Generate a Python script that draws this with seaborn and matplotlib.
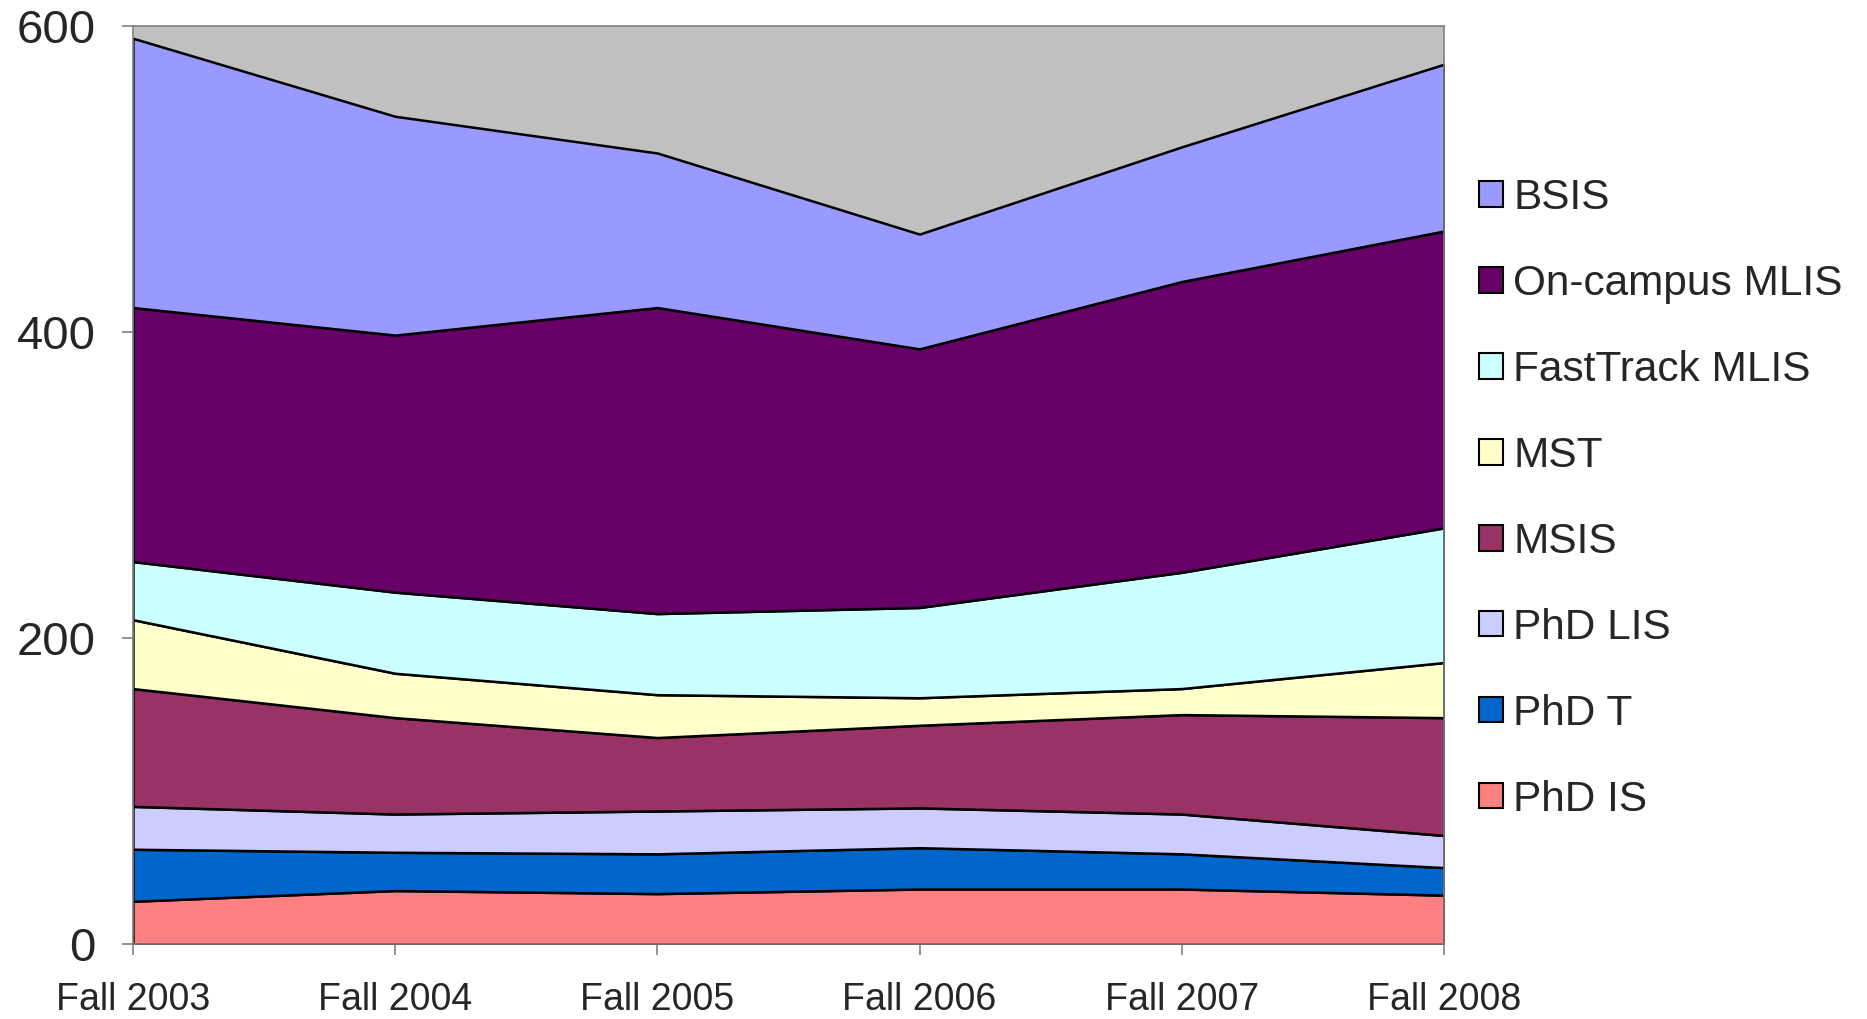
import pandas as pd
import matplotlib.pyplot as plt
import seaborn as sns
from matplotlib.patches import Patch

# data (stacked, bottom to top)
terms = ['Fall 2003', 'Fall 2004', 'Fall 2005', 'Fall 2006', 'Fall 2007', 'Fall 2008']
phd_is = [28, 35, 33, 36, 36, 32]
phd_t = [34, 25, 26, 27, 23, 18]
phd_lis = [28, 25, 28, 26, 26, 21]
msis = [77, 63, 48, 54, 65, 77]
mst = [45, 29, 28, 18, 17, 36]
fasttrack_mlis = [38, 53, 53, 59, 76, 88]
oncampus_mlis = [166, 168, 200, 169, 190, 194]
bsis = [176, 143, 101, 75, 88, 109]

programs = ['PhD IS', 'PhD T', 'PhD LIS', 'MSIS', 'MST',
            'FastTrack MLIS', 'On-campus MLIS', 'BSIS']
colors = ['#FF8080', '#0066CC', '#CCCCFF', '#993366', '#FFFFCC',
          '#CCFFFF', '#660066', '#9999FF']

df = pd.DataFrame({
    'PhD IS': phd_is, 'PhD T': phd_t, 'PhD LIS': phd_lis, 'MSIS': msis,
    'MST': mst, 'FastTrack MLIS': fasttrack_mlis,
    'On-campus MLIS': oncampus_mlis, 'BSIS': bsis,
}, index=terms)

sns.set_style('white')
plt.rcParams['font.family'] = ['Liberation Sans', 'DejaVu Sans']

fig = plt.figure(figsize=(18.67, 10.19), dpi=100)
ax = fig.add_axes([0.0712, 0.0735, 0.7022, 0.901])
ax.set_facecolor('#C0C0C0')

x = list(range(len(terms)))
ax.stackplot(x, [df[p] for p in programs], colors=colors,
             edgecolor='black', linewidth=1.8)

ax.set_xlim(0, len(terms) - 1)
ax.set_ylim(0, 600)
ax.set_yticks([0, 200, 400, 600])
ax.set_xticks(x)
ax.set_xticklabels(terms)

for s in ax.spines.values():
    s.set_color('#808080')
    s.set_linewidth(1.2)

ax.tick_params(axis='y', which='both', direction='out', length=8, width=1.2,
               color='#808080', labelsize=34, pad=19, left=True)
ax.tick_params(axis='x', which='both', direction='out', length=8, width=1.2,
               color='#808080', labelsize=27, pad=19, bottom=True)

# legend, top entry first
handles = [Patch(facecolor=c, edgecolor='black', linewidth=1.5, label=p)
           for p, c in zip(programs, colors)][::-1]
ax.legend(handles=handles, loc='upper left', bbox_to_anchor=(1.014, 0.853),
          frameon=False, fontsize=30.5, handlelength=0.55, handleheight=0.55,
          handletextpad=0.25, labelspacing=1.085, borderaxespad=0)

fig.savefig('out.png', dpi=100)
